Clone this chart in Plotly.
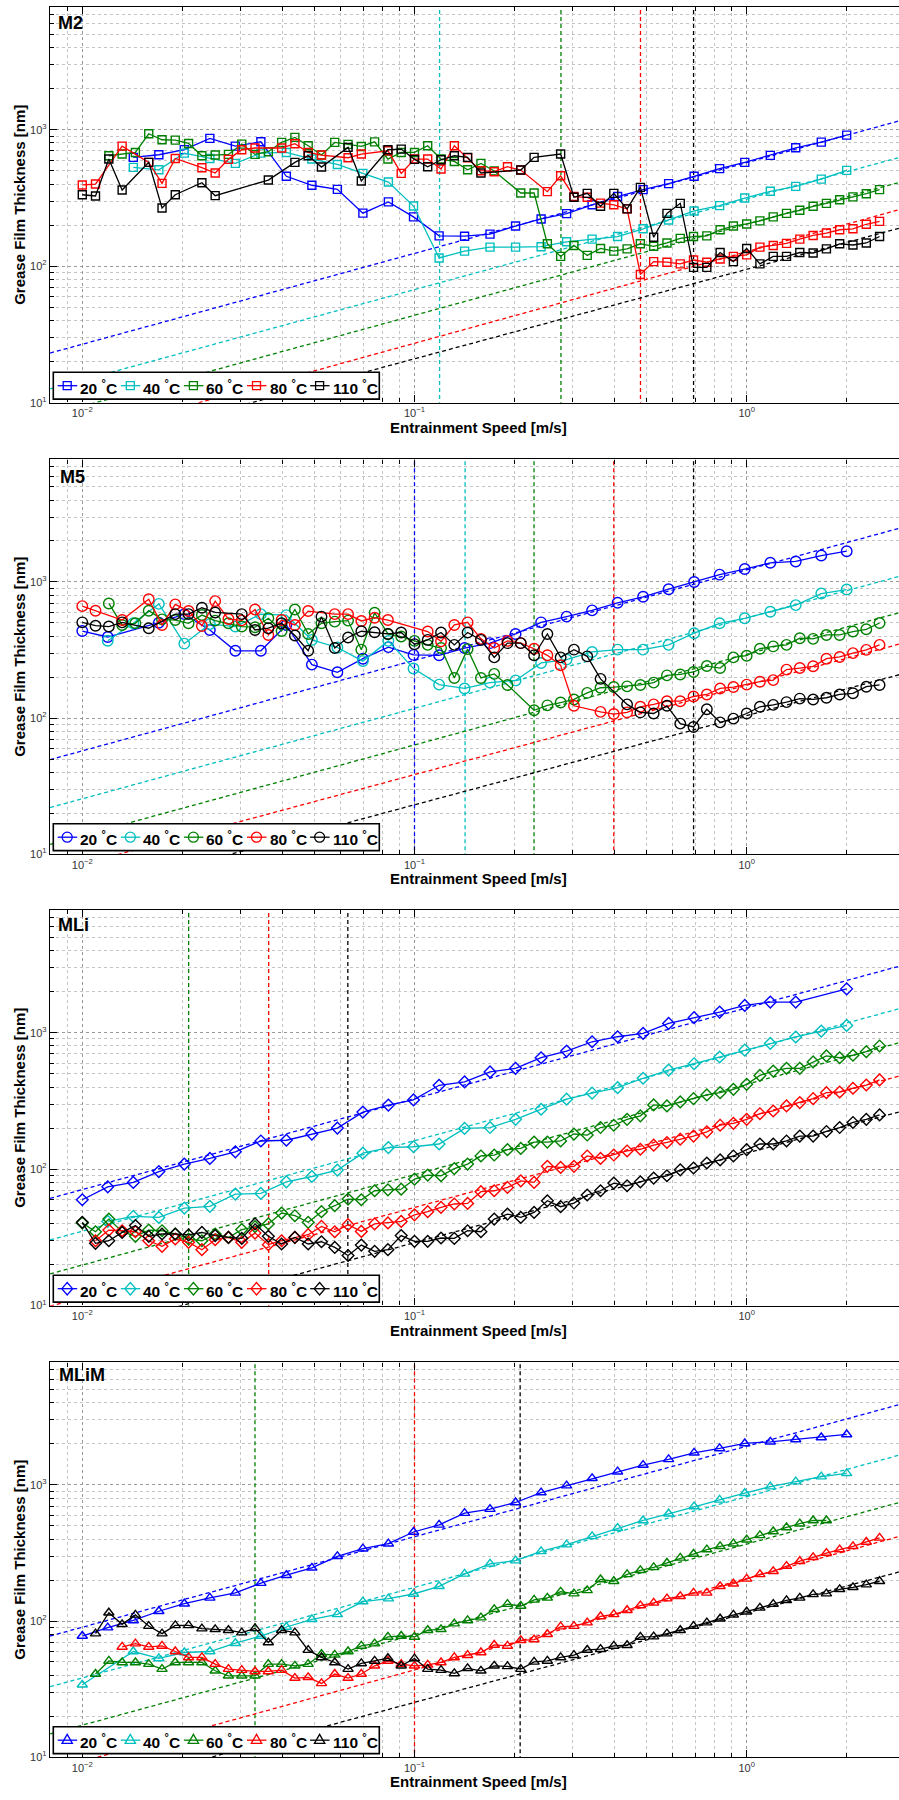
import plotly.graph_objects as go

# ---------------- data ----------------
# speed grid used by the 20 / 40 degC series  [m/s]
SPEED_A = [0.01, 0.01193, 0.01424, 0.017, 0.02028, 0.02421, 0.02889, 0.03448, 0.04114, 0.0491,
           0.0586, 0.06993, 0.08345, 0.09934, 0.1186, 0.1415, 0.1688, 0.2015, 0.2405, 0.287,
           0.3425, 0.4087, 0.4877, 0.5821, 0.6946, 0.829, 0.9868, 1.178, 1.405, 1.677, 2.0]
# speed grid used by the 60 / 80 / 110 degC series  [m/s]
SPEED_B = [0.01, 0.01096, 0.01202, 0.01318, 0.01445, 0.01585, 0.01738, 0.01905, 0.02089, 0.02291,
           0.02512, 0.02754, 0.0302, 0.03311, 0.03631, 0.03981, 0.04365, 0.04786, 0.05248, 0.05754,
           0.0631, 0.06918, 0.07586, 0.08318, 0.0912, 0.1, 0.1096, 0.1202, 0.1318, 0.1445,
           0.1585, 0.1738, 0.1905, 0.2089, 0.2291, 0.2512, 0.2754, 0.302, 0.3311, 0.3631,
           0.3981, 0.4365, 0.4786, 0.5248, 0.5754, 0.631, 0.6918, 0.7586, 0.8318, 0.912,
           1.0, 1.096, 1.202, 1.318, 1.445, 1.585, 1.738, 1.905, 2.089, 2.291, 2.512]

TEMPS = ["20", "40", "60", "80", "110"]
COLORS = ["#0000FF", "#00BFBF", "#008000", "#FF0000", "#000000"]
PANEL_NAMES = ["M2", "M5", "MLi", "MLiM"]

# ---- M2 (film thickness, nm) ----
M2_20 = [None, None, 628, 656, 715, 865, 759, 817, 456, 392, 366, 245, 296, 230, 167,
         166, 172, 197, 222, 243, 282, 324, 364, 403, 456, 519, 577, 649, 738, 812, 914]
M2_40 = [None, None, 530, 509, 674, 616, 567, 674, 682, 610, 557, 479, 414, 276, 115,
         129, 138, 138, 139, 151, 158, 165, 188, 218, 254, 278, 316, 354, 385, 435, 504]
M2_60 = [None, None, 645, 664, 682, 935, 845, 840, 794, 645, 653, 660, 785, 660, 690, 808,
         879, 764, 653, 808, 781, 755, 816, 610, 682, 682, 764, 610,
         586, 509, 567, 499, None, 344, 344, 146, 118, 142, 120, 135, 129, 134, 146, 140, 148,
         160, 165, 167, 185, 197, 204, 215, 230, 244, 257, 275, 289, 307, 322, 340, 364]
M2_80 = [394, 400, None, 759, None, 577, 405, 616, None, 527, 482, 607, 714, 735, None, 735,
         790, 682, 653, None, 624, 664, None, 702, 479, 610, 610, 516,
         764, 624, 501, 493, 536, 507, None, 352, 460, 324, 320, 290, 282, 263, 87, 108, 107,
         104, 111, 107, 113, 118, 121, 138, 142, 147, 158, 168, 175, 185, 188, 203, 213]
M2_110 = [334, 327, 610, 362, None, 577, 267, 334, None, 409, 329, None, None, None, 428, None,
          577, 645, 533, None, 743, 421, None, 714, 722, 607, 536, 603,
          645, 628, 482, None, None, 507, 628, None, 664, 320, 342, 275, 342, 263, 378, 163, 244,
          289, 98, 98, 126, 108, 135, 104, 118, 118, 126, 125, 134, 146, 143, 148, 165]

# ---- M5 ----
M5_20 = [436, 394, None, 502, 580, 444, 312, 312, 483, 247, 217, 273, 332, 291, 289,
         327, 355, 415, 505, 556, 618, 703, 778, 884, 1000, 1131, 1244, 1383, 1414, 1563, 1682]
M5_40 = [None, 370, 497, 690, 352, 490, 470, 580, 570, 375, 330, 262, 369, 231, 176,
         165, 182, 189, 254, 269, 306, 318, 318, 345, 420, 497, 541, 604, 676, 822, 879]
M5_60 = [None, None, 695, 483, 497, 615, 531, 525, 497, 571, 520, 497, 470, 465, 541, 436,
         628, 415, 497, 511, 520, 318, 594, 415, 397, 369, 345, 327,
         197, 321, 197, 211, 175, None, 114, 124, 130, 137, 153, 167, 169, 171, 175, 182, 206,
         209, 218, 241, 233, 279, 287, 323, 336, 345, 386, 382, 408, 408, 432, 449, 499]
M5_80 = [664, 615, None, 525, None, 747, 483, 684, 611, 475, 723, 534, 522, 628, 408, 525,
         483, 611, None, 580, 580, 517, 546, 525, None, None, 432, 366,
         483, 505, 382, 327, 369, 355, 323, 289, 244, 123, None, 111, 107, 110, 121, 126, 133,
         133, 144, 149, 165, 169, 176, 185, 190, 227, 233, 240, 273, 281, 300, 317, 345]
M5_110 = [505, 477, 470, 505, None, 457, None, 580, 580, 646, 597, None, 580, 444, 457, 497,
          404, 312, 556, 327, 391, 434, 427, 415, 425, 349, 375, 425,
          345, 425, 375, 279, 355, 355, 289, 415, 279, 318, 284, 194, None, 126, 110, 108, 123,
          91, 86, 116, 93, 99, 108, 121, 125, 131, 139, 137, 141, 149, 152, 170, 175]

# ---- MLi ----
MLI_20 = [59.7, 74.3, 80, 96, 109, 120, 134, 161, 163, 181, 200, 262, 295, 322, 412,
          436, 516, 549, 656, 734, 859, 935, 989, 1171, 1289, 1417, 1586, 1678, 1678, None, 2097]
MLI_40 = [None, 41.4, 45.1, 44.3, 51.9, 53.4, 65.7, 66.4, 80.8, 88.4, 98.5, 131, 144, 146, 153,
          199, 202, 232, 275, 326, 361, 396, 464, 533, 593, 664, 747, 835, 931, 1029, 1132]
MLI_60 = [40.4, 34.8, 43.1, 34.8, 32.2, 35.8, 35.4, 33.5, 30.8, 29.9, 33.5, 31.6, 36.1, 37.9,
          39.7, 47.7, 45.6, 40.8, 48.8, 54.0, 60.4, 59.7, 69.5, 70.6, 71.4, 84.5, 90.5, 89.5,
          101, 109, 125, 127, 139, 142, 158, 158, 161, 181, 178, 202, 210, 232, 246, 296, 291,
          311, 329, 350, 364, 385, 419, 487, 524, 549, 549, 611, 676, 656, 684, 727, 800]
MLI_80 = [None, 29.9, 35.8, 35.4, 34.8, 29.9, 27.2, 30.8, 29.1, 25.7, 30.4, 31.6, 29.1, 34.0,
          28.0, 29.9, 31.6, 33.1, 38.1, 34.8, 39.2, 35.0, 39.7, 40.4, 41.4, 46.3, 48.8, 52.5,
          55.6, 56.1, 68.4, 69.5, 73.5, 82.2, 80.0, 105, 103, 105, 125, 120, 127, 136, 140, 150,
          157, 166, 175, 188, 210, 217, 232, 255, 267, 291, 308, 329, 364, 368, 392, 414, 451]
MLI_110 = [40.8, 28.6, 29.9, 34.4, 38.6, 32.2, 33.5, 33.5, 33.0, 34.4, 32.6, 31.6, 31.1, 39.7,
           32.2, 28.3, 31.6, 28.3, 29.4, 26.7, 23.3, 27.8, 25.0, 25.7, 32.6, 29.6, 29.6, 31.3,
           31.1, 35.4, 34.8, 43.1, 46.9, 44.3, 48.2, 58.7, 53.1, 56.5, 64.7, 69.5, 79.1, 75.6,
           80.8, 86.1, 89.5, 99.0, 102, 111, 117, 125, 139, 153, 153, 161, 175, 175, 189, 202,
           220, 232, 250]

# ---- MLiM ----
MLIM_20 = [77.6, 89.5, 101, 118, 134, 148, 161, 190, 217, 246, 299, 340, 370, 451, 509,
           621, 664, 743, 879, 989, 1119, 1251, 1400, 1541, 1722, 1854, 2017, 2075, 2158, 2232, 2349]
MLIM_40 = [34.0, None, 59.7, 53.1, 58.7, 59.7, 68.7, 77.6, 90.4, 103, 112, 139, 146, 158, 180,
           222, 263, 278, 325, 364, 419, 482, 548, 614, 694, 777, 869, 972, 1057, 1151, 1217]
MLIM_60 = [None, 40.8, 50.9, 49.6, 49.6, 48.2, 44.3, 49.6, 49.6, 49.6, 43.1, 39.6, 39.6, 39.6,
           48.2, 48.2, 46.9, 48.2, 57.0, 56.4, 59.7, 65.6, 68.2, 76.4, 77.6, 76.4, 85.6, 86.9,
           95.7, 101, 106, 122, 133, 129, 143, 148, 164, 159, 168, 202, 196, 220, 236, 248, 267,
           291, 311, 335, 354, 370, 396, 426, 455, 487, 519, 548, 548, None, None, None, None]
MLIM_80 = [None, None, None, 64.5, 68.2, 64.5, 65.6, 59.7, 54.0, 54.0, 48.2, 44.3, 43.6, 42.6,
           42.6, 43.6, 38.1, 38.6, 34.8, 40.8, 38.1, 40.8, 46.9, 50.9, 48.2, 46.9, 47.6, 49.6,
           54.0, 56.1, 58.7, 66.7, 65.6, 72.2, 73.1, 80.0, 91.0, 91.8, 97.3, 108, 112, 120, 130,
           136, 146, 152, 161, 161, 180, 188, 204, 220, 232, 253, 275, 294, 316, 335, 354, 381, 408]
MLIM_110 = [None, 80.8, 115, 94.6, 111, 91.8, 80.8, 92.9, 92.9, 87.9, 86.9, 85.6, 82.2, 88.3,
            69.5, 85.6, 82.2, 61.1, 54.0, 49.6, 44.3, 48.8, 50.9, 53.3, 46.9, 53.0, 44.3, 43.6,
            41.2, 44.9, 43.1, 46.9, 46.4, 44.3, 50.1, 50.9, 54.0, 56.1, 61.3, 62.1, 65.6, 66.4,
            76.4, 76.8, 80.8, 85.6, 91.8, 97.3, 104, 111, 117, 125, 133, 142, 148, 157, 159,
            171, 177, 185, 196]

# power-law fit lines: thickness at speed FIT_X[0] and FIT_X[1] (20,40,60,80,110 degC)
FIT_X = [0.008, 3.0]
M2_FIT = [[23.1, 1194], [12.6, 644], [8.1, 423], [5.0, 267], [4.0, 195]]
M5_FIT = [[49.5, 2548], [22.0, 1130], [11.8, 611], [7.3, 359], [4.4, 214]]
MLI_FIT = [[61.1, 3162], [30.3, 1542], [17.1, 869], [9.9, 495], [5.5, 270]]
MLIM_FIT = [[77.6, 4000], [32.9, 1702], [14.8, 764], [8.0, 430], [4.8, 236]]

# vertical transition speeds (m/s), None = not drawn
M2_VLINE = [None, 0.119, 0.276, 0.479, 0.692]
M5_VLINE = [0.1, 0.142, 0.229, 0.398, 0.692]
MLI_VLINE = [None, None, 0.0209, 0.0364, 0.063]
MLIM_VLINE = [None, None, 0.0331, 0.1, 0.208]
VLINE_Y = [1, 100000]

PANELS = [
    dict(name="M2", series=[M2_20, M2_40, M2_60, M2_80, M2_110], fit=M2_FIT, vline=M2_VLINE,
         symbol="square-open", size=8, top=7, bottom=404, label_y=23.5, label_x=57),
    dict(name="M5", series=[M5_20, M5_40, M5_60, M5_80, M5_110], fit=M5_FIT, vline=M5_VLINE,
         symbol="circle-open", size=10.5, top=461, bottom=857, label_y=479, label_x=59),
    dict(name="MLi", series=[MLI_20, MLI_40, MLI_60, MLI_80, MLI_110], fit=MLI_FIT, vline=MLI_VLINE,
         symbol="diamond-open", size=9, top=913, bottom=1310, label_y=928.5, label_x=56.5),
    dict(name="MLiM", series=[MLIM_20, MLIM_40, MLIM_60, MLIM_80, MLIM_110], fit=MLIM_FIT,
         vline=MLIM_VLINE, symbol="triangle-up-open", size=9, top=1367, bottom=1763,
         label_y=1380, label_x=57.5),
]

# ---------------- layout geometry ----------------
W, H = 899, 1800
ML = 50
FONT = "Liberation Sans, Arial, Helvetica, sans-serif"
X_RANGE = [-2.0972, 0.4585]
Y_RANGE = [1, 3.9]


def px2paper_x(px):
    return (px - ML) / (W - ML)


def px2paper_y(py):
    return 1 - py / H


fig = go.Figure()
shapes = []
annotations = []
layout_axes = {}

for p, panel in enumerate(PANELS):
    idx = "" if p == 0 else str(p + 1)
    xa, ya = "x" + idx, "y" + idx
    # vertical dashed lines
    for j, v in enumerate(panel["vline"]):
        if v is None:
            continue
        fig.add_trace(go.Scatter(x=[v, v], y=VLINE_Y, mode="lines", xaxis=xa, yaxis=ya,
                                 line=dict(color=COLORS[j], width=1.3, dash="4px,3px"),
                                 showlegend=False, hoverinfo="skip"))
    # fit lines
    for j, f in enumerate(panel["fit"]):
        fig.add_trace(go.Scatter(x=FIT_X, y=f, mode="lines", xaxis=xa, yaxis=ya,
                                 line=dict(color=COLORS[j], width=1.3, dash="4px,3px"),
                                 showlegend=False, hoverinfo="skip"))
    # measured series
    for j, vals in enumerate(panel["series"]):
        xs = SPEED_A if j < 2 else SPEED_B
        fig.add_trace(go.Scatter(
            x=xs, y=vals, mode="lines+markers", connectgaps=True, xaxis=xa, yaxis=ya,
            name=TEMPS[j] + " °C", showlegend=False,
            line=dict(color=COLORS[j], width=1.3),
            marker=dict(symbol=panel["symbol"], size=panel["size"], color=COLORS[j],
                        line=dict(color=COLORS[j], width=1.4))))

    top, bottom = panel["top"], panel["bottom"]
    common = dict(
        type="log", showline=True, linecolor="black", linewidth=1.4,
        ticks="inside", ticklen=7, tickwidth=1, tickcolor="black",
        tickfont=dict(family=FONT, size=11, color="#333333"),
        showgrid=True, gridcolor="#9a9a9a", griddash="dot", gridwidth=1,
        minor=dict(dtick="D1", ticks="inside", ticklen=4, tickcolor="black",
                   showgrid=True, gridcolor="#c4c4c4", griddash="dot", gridwidth=1),
        zeroline=False, fixedrange=True,
    )
    layout_axes["xaxis" + idx] = dict(
        common, domain=[0, 1], anchor=ya, range=X_RANGE, mirror="ticks",
        tickmode="array", tickvals=[0.01, 0.1, 1],
        ticktext=["10<sup>−2</sup>", "10<sup>−1</sup>", "10<sup>0</sup>"])
    layout_axes["yaxis" + idx] = dict(
        common, domain=[px2paper_y(bottom), px2paper_y(top)], anchor=xa, range=Y_RANGE,
        mirror=False, tickmode="array", tickvals=[10, 100, 1000],
        ticktext=["10<sup>1</sup>", "10<sup>2</sup>", "10<sup>3</sup>"])

    # axis titles
    annotations.append(dict(text="<b>Grease Film Thickness [nm]</b>", textangle=-90,
                            x=px2paper_x(20), y=px2paper_y((top + bottom) / 2),
                            xref="paper", yref="paper", showarrow=False,
                            xanchor="center", yanchor="middle",
                            font=dict(family=FONT, size=15, color="black")))
    annotations.append(dict(text="<b>Entrainment Speed [m/s]</b>",
                            x=px2paper_x(478), y=px2paper_y(bottom + 24.5),
                            xref="paper", yref="paper", showarrow=False,
                            xanchor="center", yanchor="middle",
                            font=dict(family=FONT, size=15, color="black")))
    # panel label
    annotations.append(dict(text="<b>" + panel["name"] + "</b>",
                            x=px2paper_x(panel["label_x"] - 1), y=px2paper_y(panel["label_y"]),
                            xref="paper", yref="paper", showarrow=False,
                            xanchor="left", yanchor="middle",
                            font=dict(family=FONT, size=18, color="black")))

    # legend (box, symbols, texts)
    ly = bottom - 17
    shapes.append(dict(type="rect", xref="paper", yref="paper", layer="above",
                       x0=px2paper_x(53.3), x1=px2paper_x(379.3),
                       y0=px2paper_y(bottom - 3.5), y1=px2paper_y(bottom - 30.5),
                       line=dict(color="black", width=1.6), fillcolor="white"))
    for j in range(5):
        lx0 = 57.7 + 63.1 * j
        mx = lx0 + 9.5
        shapes.append(dict(type="line", xref="paper", yref="paper", layer="above",
                           x0=px2paper_x(lx0), x1=px2paper_x(lx0 + 19.5),
                           y0=px2paper_y(ly), y1=px2paper_y(ly),
                           line=dict(color=COLORS[j], width=1.3)))
        mk = dict(xref="paper", yref="paper", layer="above", xsizemode="pixel",
                  ysizemode="pixel", xanchor=px2paper_x(mx), yanchor=px2paper_y(ly),
                  line=dict(color=COLORS[j], width=1.3), fillcolor="rgba(0,0,0,0)")
        sym = panel["symbol"]
        if sym.startswith("square"):
            mk.update(type="rect", x0=-4, x1=4, y0=-4, y1=4)
        elif sym.startswith("circle"):
            mk.update(type="circle", x0=-5, x1=5, y0=-5, y1=5)
        elif sym.startswith("diamond"):
            mk.update(type="path", path="M0,6.2 L5.4,0 L0,-6.2 L-5.4,0 Z")
        else:
            mk.update(type="path", path="M0,5.8 L5.2,-3.2 L-5.2,-3.2 Z")
        shapes.append(mk)
        annotations.append(dict(text="<b>" + TEMPS[j] + " <sup>°</sup>C</b>",
                                x=px2paper_x(lx0 + 20.5), y=px2paper_y(ly + 1),
                                xref="paper", yref="paper", showarrow=False,
                                xanchor="left", yanchor="middle",
                                font=dict(family=FONT, size=15.5, color="black")))

fig.update_layout(
    width=W, height=H,
    margin=dict(l=ML, r=0, t=0, b=0, pad=0),
    paper_bgcolor="white", plot_bgcolor="white",
    showlegend=False,
    font=dict(family=FONT, color="black"),
    shapes=shapes, annotations=annotations,
    **layout_axes,
)

fig.write_html("out.html")
